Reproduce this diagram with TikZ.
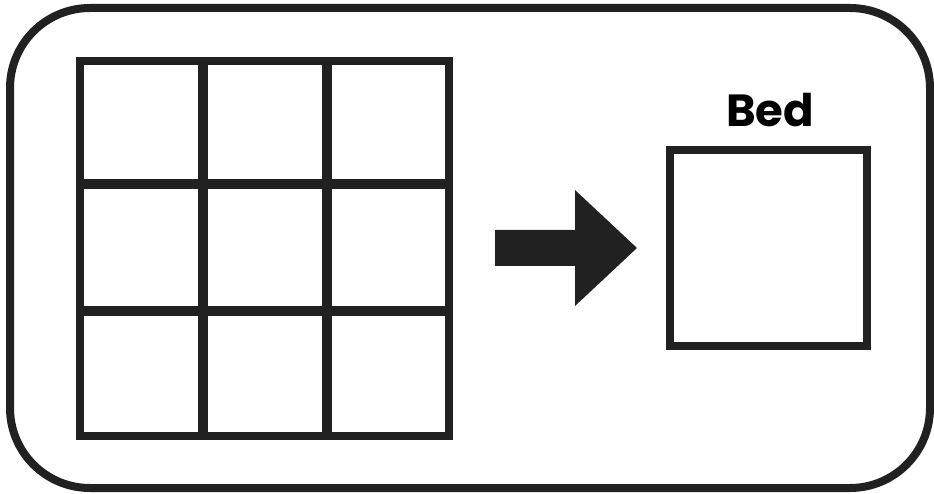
\documentclass[tikz,border=0pt]{standalone}
\usepackage{fontspec}
\newfontfamily\labelfont{Poppins}
\tikzset{
  frame/.style={draw=black!87, line width=8pt, rounded corners=80pt},
  gridline/.style={draw=black!87, line width=8pt},
  innerline/.style={draw=black!87, line width=10pt},
  bedbox/.style={draw=black!87, line width=8pt, minimum width=197pt, minimum height=196pt, inner sep=0pt},
  bigarrow/.style={fill=black!87},
  title/.style={font=\labelfont\bfseries\fontsize{45}{45}\selectfont, text=black, inner sep=0pt, anchor=base}
}
\begin{document}
\begin{tikzpicture}[x=1pt,y=-1pt]
\useasboundingbox (0,0) rectangle (934,494);
\draw[frame] (10,8) rectangle (930,488);
% grid
\draw[innerline] (202.5,61) -- (202.5,435.5);
\draw[innerline] (326.5,61) -- (326.5,435.5);
\draw[innerline] (79.5,184.5) -- (448.5,184.5);
\draw[innerline] (79.5,311) -- (448.5,311);
\draw[gridline] (79.5,61) rectangle (448.5,435.5);
% arrow
\fill[bigarrow] (495,230) -- (575,230) -- (575,190) -- (637,248) -- (575,306) -- (575,266) -- (495,266) -- cycle;
% bed
\node[bedbox] (bed) at (768.5,248) {};
\node[title] (bedlabel) at (770,127) {Bed};
\end{tikzpicture}
\end{document}
